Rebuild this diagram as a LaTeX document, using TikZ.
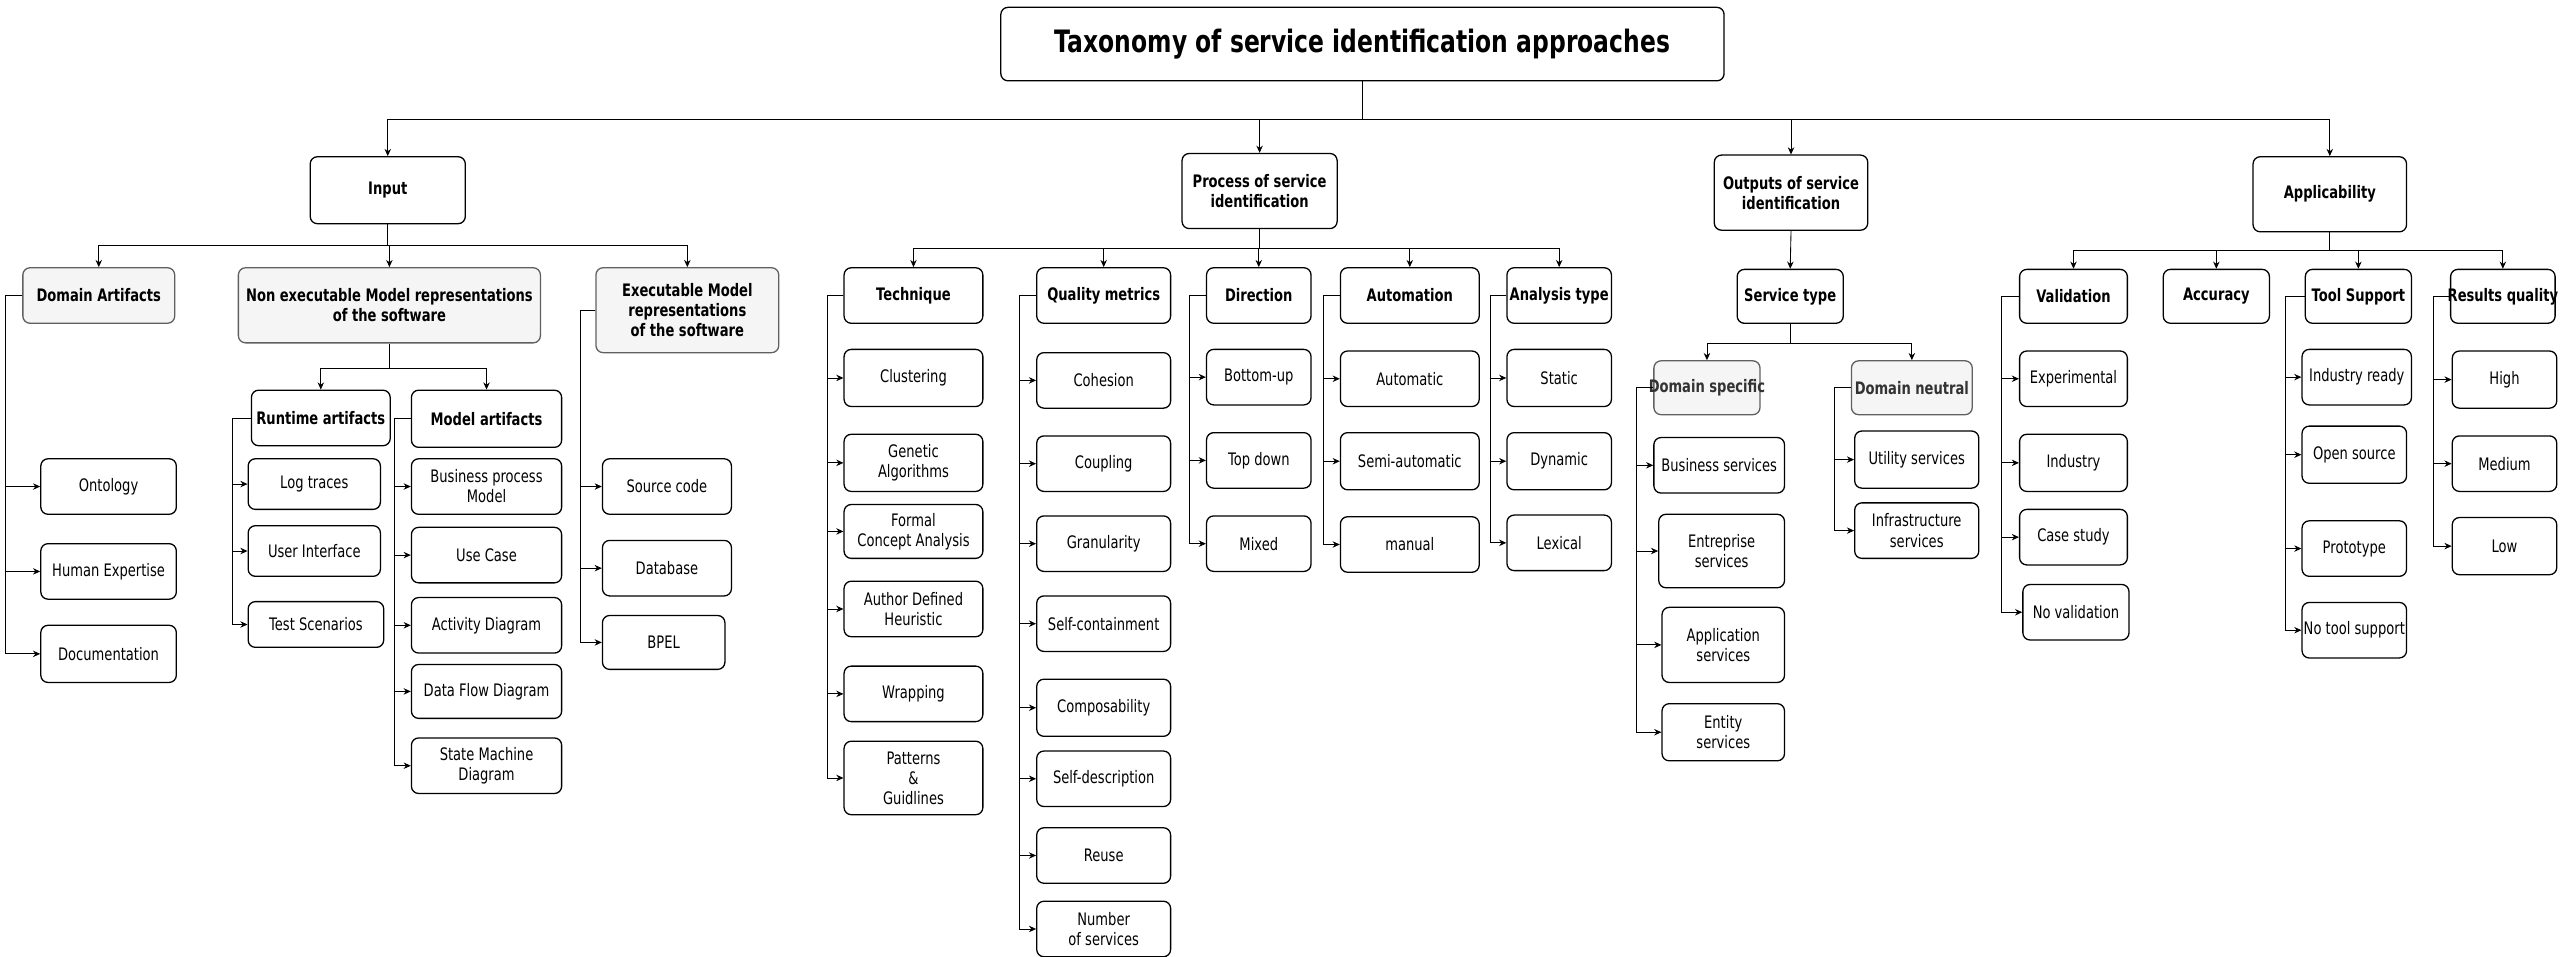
\documentclass[tikz,border=0pt]{standalone}
\usepackage{fontspec}
\setmainfont{DejaVu Sans}[FakeStretch=0.76]
\usetikzlibrary{arrows.meta}

\begin{document}
\begin{tikzpicture}[x=0.04cm, y=-0.04cm,
    box/.style={draw, rounded corners=5pt, line width=0.9pt, align=center, inner sep=1pt,
        font=\fontsize{12}{14}\selectfont},
    head/.style={box, font=\fontsize{12}{14}\selectfont\bfseries},
    cat/.style={head, fill=gray!8, draw=gray!75!black},
    tight/.style={inner xsep=-5pt},
    sz/.style 2 args={minimum width=#1*0.04cm, minimum height=#2*0.04cm},
    arr/.style={-{Stealth[length=5pt, width=4.5pt]}, line width=0.6pt}]
    \useasboundingbox (0,0) rectangle (1568,586);

    % --- Title and main branches ---
    \node[head, sz={443}{45}, font=\fontsize{21.5}{25}\selectfont\bfseries] (title) at (834.5,27) {Taxonomy of service identification approaches};
    \node[head, sz={95}{41}] (input) at (237.5,116.5) {Input};
    \node[head, sz={95}{46}] (proc) at (771.5,117) {Process of service\\identification};
    \node[head, sz={94}{46}] (outp) at (1097,118) {Outputs of service\\identification};
    \node[head, sz={94}{46}] (appl) at (1427,119) {Applicability};

    % --- Input ---
    \node[cat, sz={93}{34}] (da) at (60.5,181) {Domain Artifacts};
    \node[cat, sz={185}{46}, tight] (nonexec) at (238.5,187) {Non executable Model representations\\of the software};
    \node[cat, sz={112}{52}] (exec) at (421,190) {Executable Model\\representations\\of the software};
    \node[box, sz={83}{34}] (onto) at (66.5,298) {Ontology};
    \node[box, sz={83}{34}] (hexp) at (66.5,350) {Human Expertise};
    \node[box, sz={83}{35}] (docu) at (66.5,400.5) {Documentation};
    \node[head, sz={85}{34}, tight] (runt) at (196.5,256) {Runtime artifacts};
    \node[head, sz={92}{35}] (modart) at (298,256.5) {Model artifacts};
    \node[box, sz={81}{31}] (logt) at (192.5,296.5) {Log traces};
    \node[box, sz={81}{31}] (ui) at (192.5,337.5) {User Interface};
    \node[box, sz={83}{28}] (tests) at (193.5,382.5) {Test Scenarios};
    \node[box, sz={92}{34}] (bpm) at (298,298) {Business process\\Model};
    \node[box, sz={92}{34}] (usec) at (298,340) {Use Case};
    \node[box, sz={92}{34}] (actd) at (298,383) {Activity Diagram};
    \node[box, sz={92}{33}] (dfd) at (298,423.5) {Data Flow Diagram};
    \node[box, sz={92}{34}] (smd) at (298,469) {State Machine\\Diagram};
    \node[box, sz={79}{34}] (src) at (408.5,298) {Source code};
    \node[box, sz={79}{34}] (db) at (408.5,348) {Database};
    \node[box, sz={75}{33}] (bpel) at (406.5,393.5) {BPEL};

    % --- Process of service identification ---
    \node[head, sz={85}{34}] (tech) at (559.5,181) {Technique};
    \node[head, sz={82}{34}] (qm) at (676,181) {Quality metrics};
    \node[head, sz={64}{34}] (dir) at (771,181) {Direction};
    \node[head, sz={85}{34}] (automation) at (863.5,181) {Automation};
    \node[head, sz={64}{34}, tight] (anat) at (955,181) {Analysis type};

    \node[box, sz={85}{35}] (clu) at (559.5,231.5) {Clustering};
    \node[box, sz={85}{35}] (gen) at (559.5,283.5) {Genetic\\Algorithms};
    \node[box, sz={85}{33}] (fca) at (559.5,325.5) {Formal\\Concept Analysis};
    \node[box, sz={85}{34}] (adh) at (559.5,373) {Author Defined\\Heuristic};
    \node[box, sz={85}{34}] (wrap) at (559.5,425) {Wrapping};
    \node[box, sz={85}{45}] (pat) at (559.5,476.5) {Patterns\\\&\\Guidlines};

    \node[box, sz={82}{34}] (coh) at (676,233) {Cohesion};
    \node[box, sz={82}{34}] (cou) at (676,284) {Coupling};
    \node[box, sz={82}{34}] (gran) at (676,333) {Granularity};
    \node[box, sz={82}{34}] (selfc) at (676,382) {Self-containment};
    \node[box, sz={82}{35}] (comp) at (676,433.5) {Composability};
    \node[box, sz={82}{34}] (selfd) at (676,477) {Self-description};
    \node[box, sz={82}{34}] (reuse) at (676,524) {Reuse};
    \node[box, sz={82}{34}] (nserv) at (676,569) {Number\\of services};

    \node[box, sz={64}{34}] (bup) at (771,231) {Bottom-up};
    \node[box, sz={64}{34}] (tdown) at (771,282) {Top down};
    \node[box, sz={64}{34}] (mixed) at (771,333) {Mixed};

    \node[box, sz={85}{34}] (automatic) at (863.5,232) {Automatic};
    \node[box, sz={85}{35}] (semi) at (863.5,282.5) {Semi-automatic};
    \node[box, sz={85}{34}] (manual) at (863.5,333.5) {manual};

    \node[box, sz={64}{35}] (static) at (955,231.5) {Static};
    \node[box, sz={64}{35}] (dyn) at (955,282.5) {Dynamic};
    \node[box, sz={64}{34}] (lex) at (955,332.5) {Lexical};

    % --- Outputs of service identification ---
    \node[head, sz={65}{33}] (stype) at (1096.5,181.5) {Service type};
    \node[cat, sz={65}{33}, tight, text=black!80] (dspec) at (1045.5,237.5) {Domain specific};
    \node[cat, sz={74}{33}, tight, text=black!80] (dneut) at (1171,237.5) {Domain neutral};
    \node[box, sz={80}{34}] (bsrv) at (1053,285) {Business services};
    \node[box, sz={77}{45}] (esrv) at (1054.5,337.5) {Entreprise\\services};
    \node[box, sz={75}{46}] (asrv) at (1055.5,395) {Application\\services};
    \node[box, sz={75}{35}] (ensrv) at (1055.5,448.5) {Entity\\services};
    \node[box, sz={76}{35}] (usrv) at (1174,281.5) {Utility services};
    \node[box, sz={76}{34}] (isrv) at (1174,325) {Infrastructure\\services};

    % --- Applicability ---
    \node[head, sz={66}{33}] (valid) at (1270,181.5) {Validation};
    \node[head, sz={65}{33}] (accu) at (1357.5,181.5) {Accuracy};
    \node[head, sz={65}{33}, tight] (tool) at (1444.5,181.5) {Tool Support};
    \node[head, sz={64}{33}, tight] (resq) at (1533,181.5) {Results quality};
    \node[box, sz={66}{34}] (expe) at (1270,232) {Experimental};
    \node[box, sz={66}{35}] (indu) at (1270,283.5) {Industry};
    \node[box, sz={66}{34}] (cstudy) at (1270,329) {Case study};
    \node[box, sz={65}{34}] (noval) at (1271.5,375) {No validation};
    \node[box, sz={67}{34}] (indr) at (1443.5,231) {Industry ready};
    \node[box, sz={64}{35}] (opens) at (1442,278.5) {Open source};
    \node[box, sz={64}{34}] (proto) at (1442,336) {Prototype};
    \node[box, sz={64}{34}, tight] (notool) at (1442,386) {No tool support};
    \node[box, sz={64}{35}] (high) at (1534,232.5) {High};
    \node[box, sz={64}{34}] (med) at (1534,284) {Medium};
    \node[box, sz={64}{35}] (low) at (1534,334.5) {Low};

    % --- Connectors: downward buses ---
    \foreach \n in {input,proc,outp,appl}
        \draw[arr] (title.south) -- ++(0,23.5) -| (\n.north);
    \foreach \n in {da,nonexec,exec}
        \draw[arr] (input.south) -- ++(0,13) -| (\n.north);
    \foreach \n in {runt,modart}
        \draw[arr] (nonexec.south) -- ++(0,15) -| (\n.north);
    \foreach \n in {tech,qm,dir,automation,anat}
        \draw[arr] (proc.south) -- ++(0,12) -| (\n.north);
    \draw[arr] (outp.south) -- (stype.north);
    \foreach \n in {dspec,dneut}
        \draw[arr] (stype.south) -- ++(0,12) -| (\n.north);
    \foreach \n in {valid,accu,tool,resq}
        \draw[arr] (appl.south) -- ++(0,11) -| (\n.north);

    % --- Connectors: side lists ---
    \foreach \n in {onto,hexp,docu}
        \draw[arr] (da.west) -- ++(-10,0) |- (\n.west);
    \foreach \n in {logt,ui,tests}
        \draw[arr] (runt.west) -- ++(-11,0) |- (\n.west);
    \foreach \n in {bpm,usec,actd,dfd,smd}
        \draw[arr] (modart.west) -- ++(-10,0) |- (\n.west);
    \foreach \n in {src,db,bpel}
        \draw[arr] (exec.west) -- ++(-9,0) |- (\n.west);
    \foreach \n in {clu,gen,fca,adh,wrap,pat}
        \draw[arr] (tech.west) -- ++(-10,0) |- (\n.west);
    \foreach \n in {coh,cou,gran,selfc,comp,selfd,reuse,nserv}
        \draw[arr] (qm.west) -- ++(-10,0) |- (\n.west);
    \foreach \n in {bup,tdown,mixed}
        \draw[arr] (dir.west) -- ++(-10,0) |- (\n.west);
    \foreach \n in {automatic,semi,manual}
        \draw[arr] (automation.west) -- ++(-10,0) |- (\n.west);
    \foreach \n in {static,dyn,lex}
        \draw[arr] (anat.west) -- ++(-10,0) |- (\n.west);
    \foreach \n in {bsrv,esrv,asrv,ensrv}
        \draw[arr] (dspec.west) -- ++(-10,0) |- (\n.west);
    \foreach \n in {usrv,isrv}
        \draw[arr] (dneut.west) -- ++(-10,0) |- (\n.west);
    \foreach \n in {expe,indu,cstudy,noval}
        \draw[arr] (valid.west) -- ++(-10.5,0) |- (\n.west);
    \foreach \n in {indr,opens,proto,notool}
        \draw[arr] (tool.west) -- ++(-12,0) |- (\n.west);
    \foreach \n in {high,med,low}
        \draw[arr] (resq.west) -- ++(-10,0) |- (\n.west);
\end{tikzpicture}
\end{document}
